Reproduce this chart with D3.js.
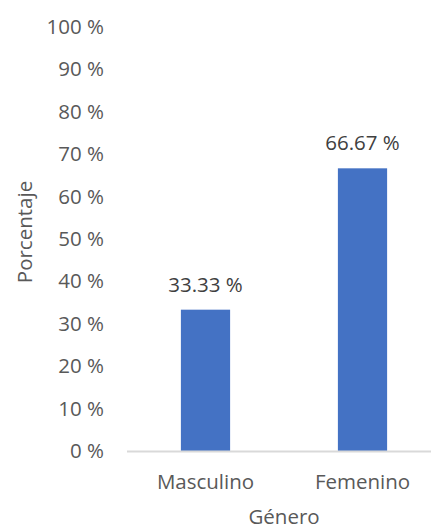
<!DOCTYPE html>
<html>
<head>
<meta charset="utf-8">
<script src="https://cdn.jsdelivr.net/npm/d3@7"></script>
<style>
  html, body { margin: 0; padding: 0; background: #fff; }
  svg { display: block; }
  text { font-family: "Open Sans", sans-serif; }
</style>
</head>
<body>
<svg id="chart" width="431" height="530"></svg>
<script>
// Distribución por género
const categories = ["Masculino", "Femenino"];
const values = [33.33, 66.67];
const tickValues = [0, 10, 20, 30, 40, 50, 60, 70, 80, 90, 100];
const xTitle = "Género";
const yTitle = "Porcentaje";

const FS = 20.5;
const svg = d3.select("#chart");
const fmt = d => d3.format(".2f")(d) + " %";

const plot = { left: 127, right: 441, top: 27, bottom: 451 };

const x = d3.scaleBand()
  .domain(categories)
  .range([plot.left, plot.right])
  .paddingInner(2.19 / 3.19)
  .paddingOuter(2.19 / 3.19 / 2);

const y = d3.scaleLinear()
  .domain([0, 100])
  .range([plot.bottom, plot.top]);

// y-axis tick labels (no line, no ticks)
const yAxis = d3.axisLeft(y)
  .tickValues(tickValues)
  .tickFormat(d => d + " %")
  .tickSize(0)
  .tickPadding(0);

svg.append("g")
  .attr("transform", `translate(104,0)`)
  .call(yAxis)
  .call(g => g.select(".domain").remove())
  .call(g => g.selectAll("text")
    .attr("font-family", "Open Sans, sans-serif")
    .attr("font-size", FS)
    .attr("fill", "#595959"));

// bars
svg.append("g")
  .selectAll("rect")
  .data(categories.map((c, i) => ({ c, v: values[i] })))
  .join("rect")
  .attr("x", d => x(d.c))
  .attr("y", d => y(d.v))
  .attr("width", x.bandwidth())
  .attr("height", d => y(0) - y(d.v))
  .attr("fill", "#4472C4");

// value labels
svg.append("g")
  .selectAll("text")
  .data(categories.map((c, i) => ({ c, v: values[i] })))
  .join("text")
  .attr("x", d => x(d.c) + x.bandwidth() / 2)
  .attr("y", d => y(d.v) - 18)
  .attr("text-anchor", "middle")
  .attr("font-size", FS)
  .attr("fill", "#404040")
  .text(d => fmt(d.v));

// x axis: baseline and category labels
const xAxis = d3.axisBottom(x).tickSize(0).tickPadding(0);
svg.append("g")
  .attr("transform", `translate(0,${plot.bottom})`)
  .call(xAxis)
  .call(g => g.select(".domain")
    .attr("d", `M${plot.left},0.5H${plot.right}`)
    .attr("stroke", "#D9D9D9")
    .attr("stroke-width", 2))
  .call(g => g.selectAll("text")
    .attr("y", 38)
    .attr("dy", 0)
    .attr("font-family", "Open Sans, sans-serif")
    .attr("font-size", FS)
    .attr("fill", "#595959"));

// axis titles
svg.append("text")
  .attr("x", 284)
  .attr("y", 524)
  .attr("text-anchor", "middle")
  .attr("font-size", FS)
  .attr("fill", "#595959")
  .text(xTitle);

svg.append("text")
  .attr("transform", `translate(32,232) rotate(-90)`)
  .attr("text-anchor", "middle")
  .attr("font-size", FS)
  .attr("fill", "#595959")
  .text(yTitle);
</script>
</body>
</html>
